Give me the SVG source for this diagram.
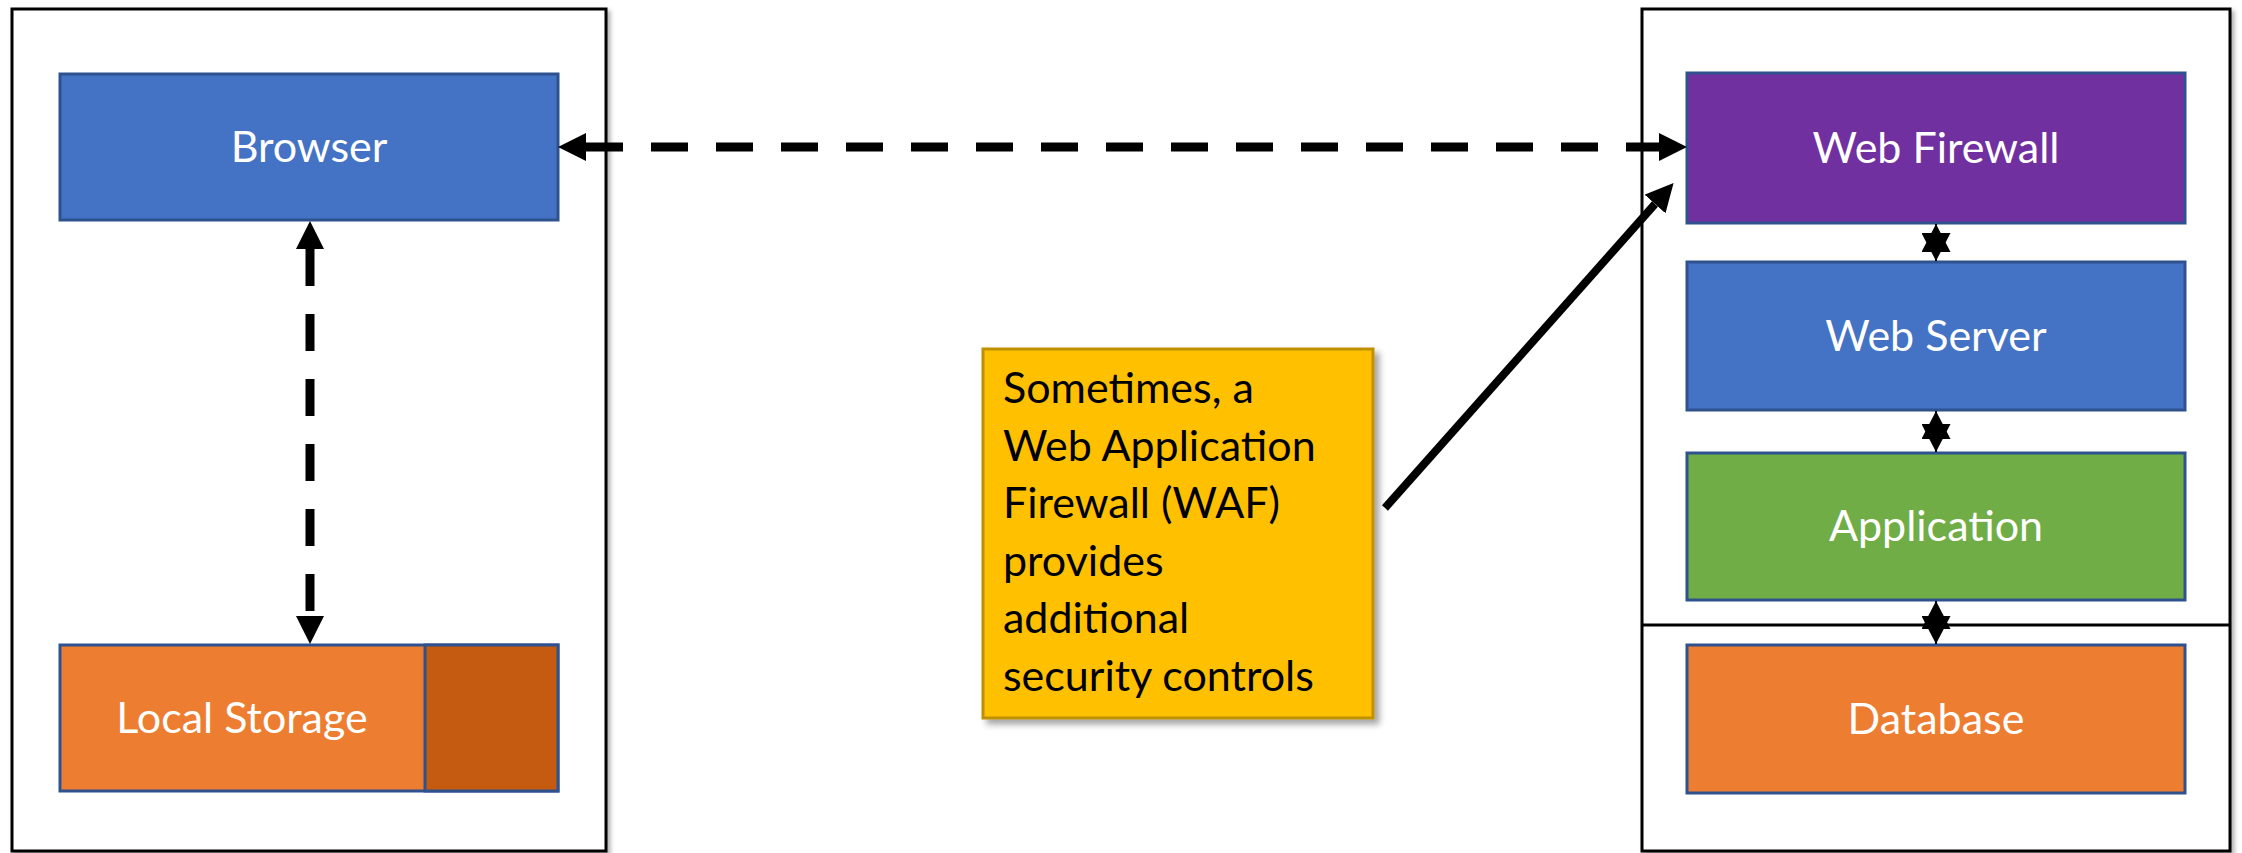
<svg xmlns="http://www.w3.org/2000/svg" width="2242" height="853" viewBox="0 0 2242 853">
  <style>
    .frame { fill: #ffffff; stroke: #000000; stroke-width: 3; }
    .box { stroke: #2F528F; stroke-width: 3; }
    .label { font-family: Lato, "Open Sans", sans-serif; font-size: 43px; fill: #ffffff; text-anchor: middle; }
    .note-text { font-family: Lato, "Open Sans", sans-serif; font-size: 43px; fill: #000000; }
    .dashed { stroke: #000000; stroke-width: 9; fill: none; stroke-dasharray: 37 28; }
    .solid { stroke: #000000; stroke-width: 8; fill: none; }
    .thin { stroke: #000000; stroke-width: 2; fill: none; }
  </style>
  <defs>
    <marker id="bigHead" markerUnits="userSpaceOnUse" markerWidth="28" markerHeight="28" refX="0" refY="14" orient="auto-start-reverse">
      <path d="M0,0 L28,14 L0,28 z" fill="#000000"/>
    </marker>
    <!-- tip-anchored head: the two heads of a short link overlap into a star -->
    <marker id="smallHead" markerUnits="userSpaceOnUse" markerWidth="28" markerHeight="29" refX="28" refY="14.5" orient="auto-start-reverse">
      <path d="M0,0 L28,14.5 L0,29 z" fill="#000000"/>
    </marker>
    <filter id="shadow" x="-10%" y="-10%" width="130%" height="130%">
      <feDropShadow dx="5" dy="5" stdDeviation="3" flood-color="#000000" flood-opacity="0.35"/>
    </filter>
    <filter id="frameShadow" x="-5%" y="-5%" width="110%" height="110%">
      <feDropShadow dx="3" dy="3" stdDeviation="2" flood-color="#000000" flood-opacity="0.3"/>
    </filter>
  </defs>

  <rect width="2242" height="853" fill="#ffffff"/>

  <!-- client side -->
  <g id="client-frame">
    <rect class="frame" x="12" y="9" width="594" height="842" filter="url(#frameShadow)"/>
  </g>
  <g id="browser">
    <rect class="box" x="60" y="74" width="498" height="146" fill="#4472C4"/>
    <text class="label" x="309" y="162">Browser</text>
  </g>
  <g id="local-storage">
    <rect class="box" x="60" y="645" width="498" height="146" fill="#ED7D31"/>
    <rect class="box" x="425" y="645" width="133" height="146" fill="#C55A11"/>
    <text class="label" x="242" y="733">Local Storage</text>
  </g>

  <!-- server side -->
  <g id="server-frame">
    <rect class="frame" x="1642" y="9" width="588" height="842" filter="url(#frameShadow)"/>
    <line x1="1642" y1="625" x2="2230" y2="625" stroke="#000000" stroke-width="3"/>
  </g>
  <g id="web-firewall">
    <rect class="box" x="1687" y="73" width="498" height="150" fill="#7030A0"/>
    <text class="label" x="1936" y="163">Web Firewall</text>
  </g>
  <g id="web-server">
    <rect class="box" x="1687" y="262" width="498" height="148" fill="#4472C4"/>
    <text class="label" x="1936" y="351">Web Server</text>
  </g>
  <g id="application">
    <rect class="box" x="1687" y="453" width="498" height="147" fill="#70AD47"/>
    <text class="label" x="1936" y="541">Application</text>
  </g>
  <g id="database">
    <rect class="box" x="1687" y="645" width="498" height="148" fill="#ED7D31"/>
    <text class="label" x="1936" y="734">Database</text>
  </g>

  <!-- callout -->
  <g id="waf-note">
    <rect x="983" y="349" width="390" height="369" fill="#FFC000" stroke="#BF9000" stroke-width="3" filter="url(#shadow)"/>
    <text class="note-text" x="1003" y="403">Sometimes, a</text>
    <text class="note-text" x="1003" y="461">Web Application</text>
    <text class="note-text" x="1003" y="518">Firewall (WAF)</text>
    <text class="note-text" x="1003" y="576">provides</text>
    <text class="note-text" x="1003" y="633">additional</text>
    <text class="note-text" x="1003" y="691">security controls</text>
  </g>

  <!-- connectors -->
  <g id="connectors">
    <line class="dashed" x1="586" y1="147" x2="1659" y2="147" marker-start="url(#bigHead)" marker-end="url(#bigHead)"/>
    <line class="dashed" x1="310" y1="249" x2="310" y2="616" marker-start="url(#bigHead)" marker-end="url(#bigHead)"/>
    <line class="solid" x1="1385" y1="508" x2="1655" y2="204" marker-end="url(#bigHead)"/>
    <line class="thin" x1="1936" y1="224" x2="1936" y2="261" marker-start="url(#smallHead)" marker-end="url(#smallHead)"/>
    <line class="thin" x1="1936" y1="411" x2="1936" y2="452" marker-start="url(#smallHead)" marker-end="url(#smallHead)"/>
    <line class="thin" x1="1936" y1="601" x2="1936" y2="644" marker-start="url(#smallHead)" marker-end="url(#smallHead)"/>
  </g>
</svg>
